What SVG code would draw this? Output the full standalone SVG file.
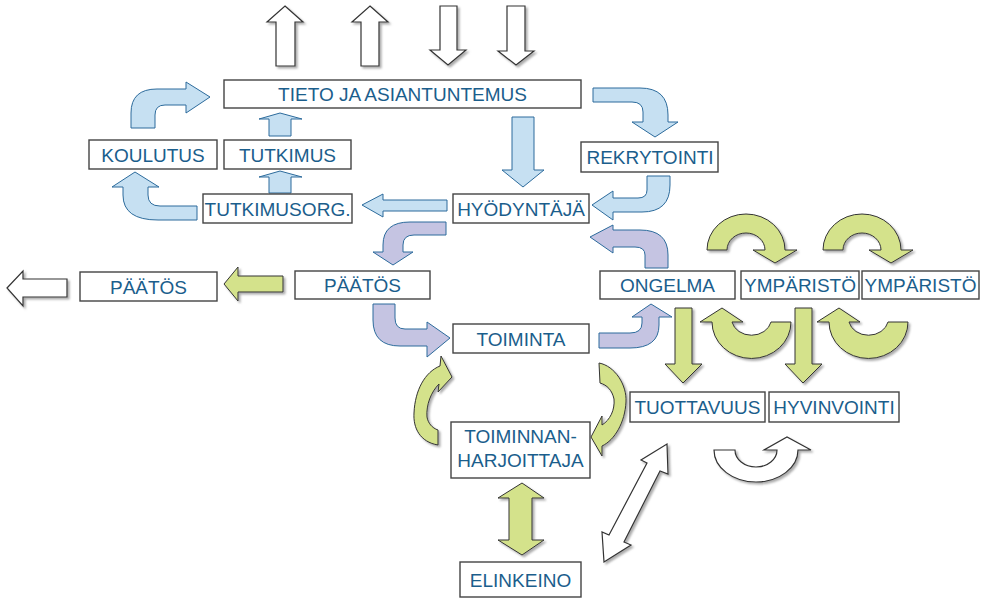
<svg xmlns="http://www.w3.org/2000/svg" width="982" height="598" viewBox="0 0 982 598">
<defs>
<filter id="sh" x="-20%" y="-20%" width="140%" height="140%">
<feDropShadow dx="2" dy="2" stdDeviation="0.8" flood-color="#888" flood-opacity="0.7"/>
</filter>
</defs>
<style>
.box{fill:#fff;stroke:#444;stroke-width:1.4}
.lbl{font-family:"Liberation Sans",Arial,sans-serif;font-size:19px;fill:#1b5e8c;text-anchor:middle}
.blue{fill:#c6e0f2;stroke:#2c6b9c;stroke-width:1}
.purp{fill:#c5c4e2;stroke:#2c6b9c;stroke-width:1}
.green{fill:#d4e28b;stroke:#333;stroke-width:1;filter:url(#sh)}
.white{fill:#fff;stroke:#333;stroke-width:1.2;filter:url(#sh)}
</style>
<rect width="982" height="598" fill="#fff"/>
<g id="connectors">
<!-- top white arrows -->
<polygon class="white" points="285,6 303,22 295,22 295,66 276,66 276,22 267,22"/>
<polygon class="white" points="370,6 388,22 379,22 379,66 361,66 361,22 352,22"/>
<polygon class="white" points="440,6 457,6 457,50 466,50 448,65 430,50 440,50"/>
<polygon class="white" points="507,6 525,6 525,51 534,51 516,65 498,51 507,51"/>
<!-- blue -->
<path class="blue" d="M131,128 L131,113 Q131,89 157,89 L186,89 L186,82 L210,97 L186,113 L186,105 L165,105 Q155,105 155,115 L155,128 Z"/>
<polygon class="blue" points="280,113 302,119 291,119 291,136 269,136 269,119 259,119"/>
<polygon class="blue" points="280,171 302,177 291,177 291,193 269,193 269,177 259,177"/>
<path class="blue" d="M197,206 L160,206 Q148,206 148,195 L148,187 L159,187 L135,172 L112,187 L123,187 L123,195 Q123,220 158,220 L197,220 Z"/>
<polygon class="blue" points="362,205 383,194 383,200 447,200 447,211 383,211 383,217"/>
<polygon class="blue" points="512,117 534,117 534,170 544,170 523,187 502,170 512,170"/>
<path class="blue" d="M593,88 L640,88 Q668,88 668,115 L668,122 L678,122 L655,137 L632,122 L643,122 L643,112 Q643,102 632,102 L593,102 Z"/>
<path class="blue" d="M647,176 L647,190 Q647,198 638,198 L613,198 L613,191 L592,205 L613,220 L613,212 L642,212 Q670,212 670,185 L670,176 Z"/>
<!-- purple -->
<path class="purp" d="M446,222 L410,222 Q383,222 383,245 L383,252 L373,252 L393,265 L413,252 L403,252 L403,245 Q403,235 414,235 L446,235 Z"/>
<path class="purp" d="M373,304 L373,320 Q373,346 400,346 L427,346 L427,357 L450,338 L427,322 L427,329 L405,329 Q395,329 395,318 L395,304 Z"/>
<path class="purp" d="M599,333 L630,333 Q642,333 642,323 L642,317 L632,317 L651,304 L672,317 L659,317 L659,325 Q659,348 630,348 L599,348 Z"/>
<path class="purp" d="M645,268 L645,255 Q645,247 635,247 L613,247 L613,253 L590,237 L613,225 L613,230 L640,230 Q668,230 668,255 L668,268 Z"/>
<!-- green / white left -->
<polygon class="green" points="224,284 238,267 238,276 283,276 283,292 238,292 238,301"/>
<polygon class="white" points="7,288 23,271 23,279 67,279 67,297 23,297 23,306"/>
<!-- green curved top -->
<path class="green" d="M707,250 A39,36 0 0 1 785,250 L797,250 L775,263 L753,250 L765,250 A19,17 0 0 0 727,250 Z"/>
<path class="green" d="M823,250 A39,36 0 0 1 901,250 L913,250 L891,263 L869,250 L881,250 A19,17 0 0 0 843,250 Z"/>
<!-- green curved bottom -->
<path class="green" d="M791,322 A39,36 0 0 1 712,322 L700,322 L722,308 L743,322 L732,322 A20,17 0 0 0 771,322 Z"/>
<path class="green" d="M908,322 A39,36 0 0 1 829,322 L817,322 L839,308 L860,322 L849,322 A20,17 0 0 0 888,322 Z"/>
<!-- green downs -->
<polygon class="green" points="675,308 692,308 692,364 702,364 683,383 665,364 675,364"/>
<polygon class="green" points="795,308 812,308 812,364 822,364 803,383 785,364 795,364"/>
<!-- green side curves -->
<path class="green" d="M438,445 C420,442 413,428 414,413 C415,390 425,372 440,366 L441,356 L452,377 L438,392 L439,384 C431,392 426,405 427,417 C428,423 432,428 438,430 Z"/>
<path class="green" d="M599,363 C615,366 627,385 626,402 C625,422 615,440 602,446 L602,456 L591,437 L602,416 L602,425 C610,420 615,410 614,399 C612,390 607,385 600,383 Z"/>
<!-- green double -->
<polygon class="green" points="522,483 544,498 532,498 532,540 544,540 522,555 498,540 509,540 509,498 498,498"/>
<!-- white diagonal double -->
<polygon class="white" points="667,444 668,474 660,471 624,542 631,545 604,562 602,532 609,535 647,463 641,460"/>
<!-- white U arrow -->
<path class="white" d="M714,450 A42,32 0 0 0 798,450 L811,450 L787,437 L764,450 L777,450 A21,17 0 0 1 735,450 Z"/>
</g>
<g id="n-tieto"><rect class="box" x="224" y="80" width="357" height="28"/><text class="lbl" x="402.5" y="101">TIETO JA ASIANTUNTEMUS</text></g>
<g id="n-koulutus"><rect class="box" x="89" y="140" width="128" height="29"/><text class="lbl" x="153" y="161.5">KOULUTUS</text></g>
<g id="n-tutkimus"><rect class="box" x="224" y="140" width="127" height="29"/><text class="lbl" x="287.5" y="161.5">TUTKIMUS</text></g>
<g id="n-tutkimusorg"><rect class="box" x="203" y="194" width="149" height="29"/><text class="lbl" x="277.5" y="215.5" textLength="146" lengthAdjust="spacingAndGlyphs">TUTKIMUSORG.</text></g>
<g id="n-hyodyntaja"><rect class="box" x="453" y="194" width="136" height="29"/><text class="lbl" x="521" y="215.5">HYÖDYNTÄJÄ</text></g>
<g id="n-rekrytointi"><rect class="box" x="581" y="142" width="137" height="30"/><text class="lbl" x="650" y="164">REKRYTOINTI</text></g>
<g id="n-paatos1"><rect class="box" x="80" y="272" width="137" height="29"/><text class="lbl" x="148.5" y="293.5">PÄÄTÖS</text></g>
<g id="n-paatos2"><rect class="box" x="295" y="271" width="135" height="28"/><text class="lbl" x="362.5" y="292">PÄÄTÖS</text></g>
<g id="n-toiminta"><rect class="box" x="453" y="324" width="136" height="29"/><text class="lbl" x="521" y="345.5">TOIMINTA</text></g>
<g id="n-toiminnanharjoittaja"><rect class="box" x="451" y="422" width="139" height="56"/><text class="lbl" x="520.5" y="443">TOIMINNAN-</text><text class="lbl" x="520.5" y="467">HARJOITTAJA</text></g>
<g id="n-elinkeino"><rect class="box" x="460" y="562" width="121" height="35"/><text class="lbl" x="520.5" y="586.5">ELINKEINO</text></g>
<g id="n-ongelma"><rect class="box" x="600" y="271" width="135" height="28"/><text class="lbl" x="667.5" y="292">ONGELMA</text></g>
<g id="n-ymparisto1"><rect class="box" x="741" y="271" width="118" height="28"/><text class="lbl" x="800" y="292">YMPÄRISTÖ</text></g>
<g id="n-ymparisto2"><rect class="box" x="862" y="271" width="117" height="28"/><text class="lbl" x="920.5" y="292">YMPÄRISTÖ</text></g>
<g id="n-tuottavuus"><rect class="box" x="630" y="392" width="135" height="30"/><text class="lbl" x="697.5" y="414">TUOTTAVUUS</text></g>
<g id="n-hyvinvointi"><rect class="box" x="769" y="392" width="130" height="30"/><text class="lbl" x="834" y="414">HYVINVOINTI</text></g>
</svg>
